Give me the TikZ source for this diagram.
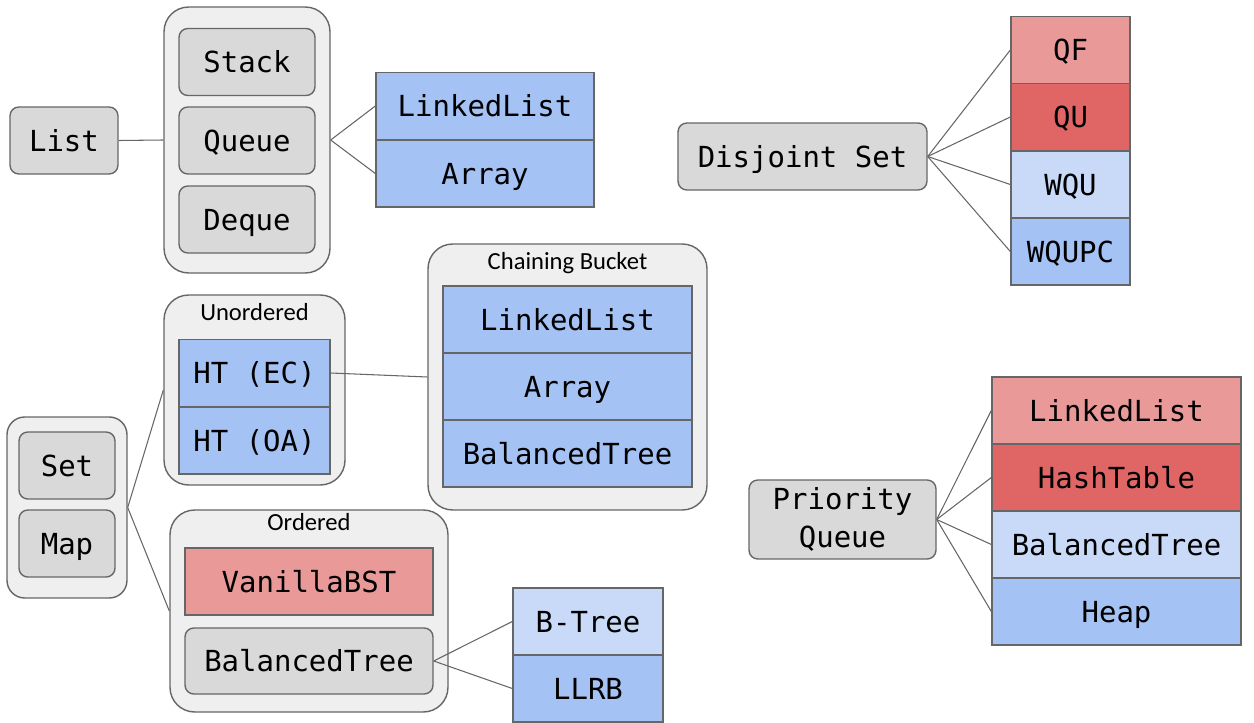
\documentclass[tikz,border=0pt]{standalone}
\usepackage{fontspec}
\setmonofont{DejaVu Sans Mono}
\newfontfamily\capfont{Carlito}
\usetikzlibrary{positioning}
\definecolor{boxgray}{HTML}{D9D9D9}
\definecolor{groupgray}{HTML}{EFEFEF}
\definecolor{edgegray}{HTML}{666666}
\definecolor{redlight}{HTML}{EA9999}
\definecolor{reddark}{HTML}{E06666}
\definecolor{bluelight}{HTML}{C9DAF8}
\definecolor{bluemid}{HTML}{A4C2F4}
\tikzstyle{adt}=[rectangle, rounded corners=5pt, fill=boxgray, draw=edgegray, line width=0.8pt, inner sep=0pt, font=\ttfamily\fontsize{16.5}{22}\selectfont, align=center, minimum height=1.34cm, text height=14pt, text depth=1.6pt]
\tikzstyle{cell}=[rectangle, draw=edgegray, line width=0.8pt, inner sep=0pt, font=\ttfamily\fontsize{16.5}{22}\selectfont, minimum height=1.34cm, text height=14pt, text depth=1.6pt]
\tikzstyle{group}=[rectangle, rounded corners=14pt, fill=groupgray, draw=edgegray, line width=0.8pt, inner sep=0pt]
\tikzstyle{caption}=[font=\capfont\fontsize{14}{16}\selectfont, inner sep=0pt]
\tikzstyle{link}=[draw=edgegray, line width=0.6pt]

\begin{document}
\begin{tikzpicture}[x=0.02cm, y=-0.02cm]
	\useasboundingbox (0,0) rectangle (1254,723);

	% list family
	\node[adt, minimum width=2.16cm](list) at (64,140.5){List};
	\node[group, minimum width=3.32cm, minimum height=5.32cm](listgroup) at (247,140){};
	\node[adt, minimum width=2.72cm](stack) at (247,62){Stack};
	\node[adt, minimum width=2.72cm](queue) at (247,140.5){Queue};
	\node[adt, minimum width=2.72cm](deque) at (247,219.5){Deque};
	\node[cell, fill=bluemid, minimum width=4.36cm](listll) at (485,106){LinkedList};
	\node[cell, fill=bluemid, minimum width=4.36cm](listarr) at (485,173.5){Array};

	\draw[link] (list.east) -- (listgroup.west);
	\draw[link] (listgroup.east) -- (listll.west);
	\draw[link] (listgroup.east) -- (listarr.west);

	% disjoint set
	\node[adt, minimum width=4.98cm](djs) at (802.5,156.5){Disjoint Set};
	\node[cell, fill=redlight, minimum width=2.38cm](qf) at (1070.5,50){QF};
	\node[cell, fill=reddark, minimum width=2.38cm](qu) at (1070.5,117){QU};
	\node[cell, fill=bluelight, minimum width=2.38cm](wqu) at (1070.5,184.5){WQU};
	\node[cell, fill=bluemid, minimum width=2.38cm](wqupc) at (1070.5,251.5){WQUPC};
	\foreach \n in {qf,qu,wqu,wqupc}
		\draw[link] (djs.east) -- (\n.west);

	% set and map
	\node[group, rounded corners=10pt, minimum width=2.4cm, minimum height=3.62cm](setmap) at (67,507.5){};
	\node[adt, minimum width=1.92cm](set) at (67,465.5){Set};
	\node[adt, minimum width=1.92cm](map) at (67,543.5){Map};

	\node[group, minimum width=3.62cm, minimum height=3.8cm](unord) at (254.5,390){};
	\node[caption](unordcap) at (254.5,312){Unordered};
	\node[cell, fill=bluemid, minimum width=3.02cm](htec) at (254.5,373){HT (EC)};
	\node[cell, fill=bluemid, minimum width=3.02cm](htoa) at (254.5,440.5){HT (OA)};

	\node[group, minimum width=5.58cm, minimum height=5.32cm](chain) at (567.5,377){};
	\node[caption](chaincap) at (567.5,263){Chaining Bucket};
	\node[cell, fill=bluemid, minimum width=4.98cm](chainll) at (567.5,319.5){LinkedList};
	\node[cell, fill=bluemid, minimum width=4.98cm](chainarr) at (567.5,386.5){Array};
	\node[cell, fill=bluemid, minimum width=4.98cm](chainbt) at (567.5,453.5){BalancedTree};

	\node[group, minimum width=5.56cm, minimum height=4.04cm](ord) at (309,611){};
	\node[caption](ordcap) at (309,522){Ordered};
	\node[cell, fill=redlight, minimum width=4.96cm](bst) at (309,581.5){VanillaBST};
	\node[adt, minimum width=4.96cm, minimum height=1.32cm](baltree) at (309,661){BalancedTree};
	\node[cell, fill=bluelight, minimum width=3cm](btree) at (588,621.5){B-Tree};
	\node[cell, fill=bluemid, minimum width=3cm](llrb) at (588,688.5){LLRB};

	\draw[link] (setmap.east) -- (unord.west);
	\draw[link] (setmap.east) -- (ord.west);
	\draw[link] (htec.east) -- (chain.west);
	\draw[link] (baltree.east) -- (btree.west);
	\draw[link] (baltree.east) -- (llrb.west);

	% priority queue
	\node[adt, text height=, text depth=, minimum width=3.74cm, minimum height=1.58cm](pq) at (842.5,519.5){Priority\\Queue};
	\node[cell, fill=redlight, minimum width=4.98cm](pqll) at (1116.5,410.5){LinkedList};
	\node[cell, fill=reddark, minimum width=4.98cm](pqht) at (1116.5,477.5){HashTable};
	\node[cell, fill=bluelight, minimum width=4.98cm](pqbt) at (1116.5,544.5){BalancedTree};
	\node[cell, fill=bluemid, minimum width=4.98cm](pqheap) at (1116.5,611.5){Heap};
	\foreach \n in {pqll,pqht,pqbt,pqheap}
		\draw[link] (pq.east) -- (\n.west);

\end{tikzpicture}
\end{document}
